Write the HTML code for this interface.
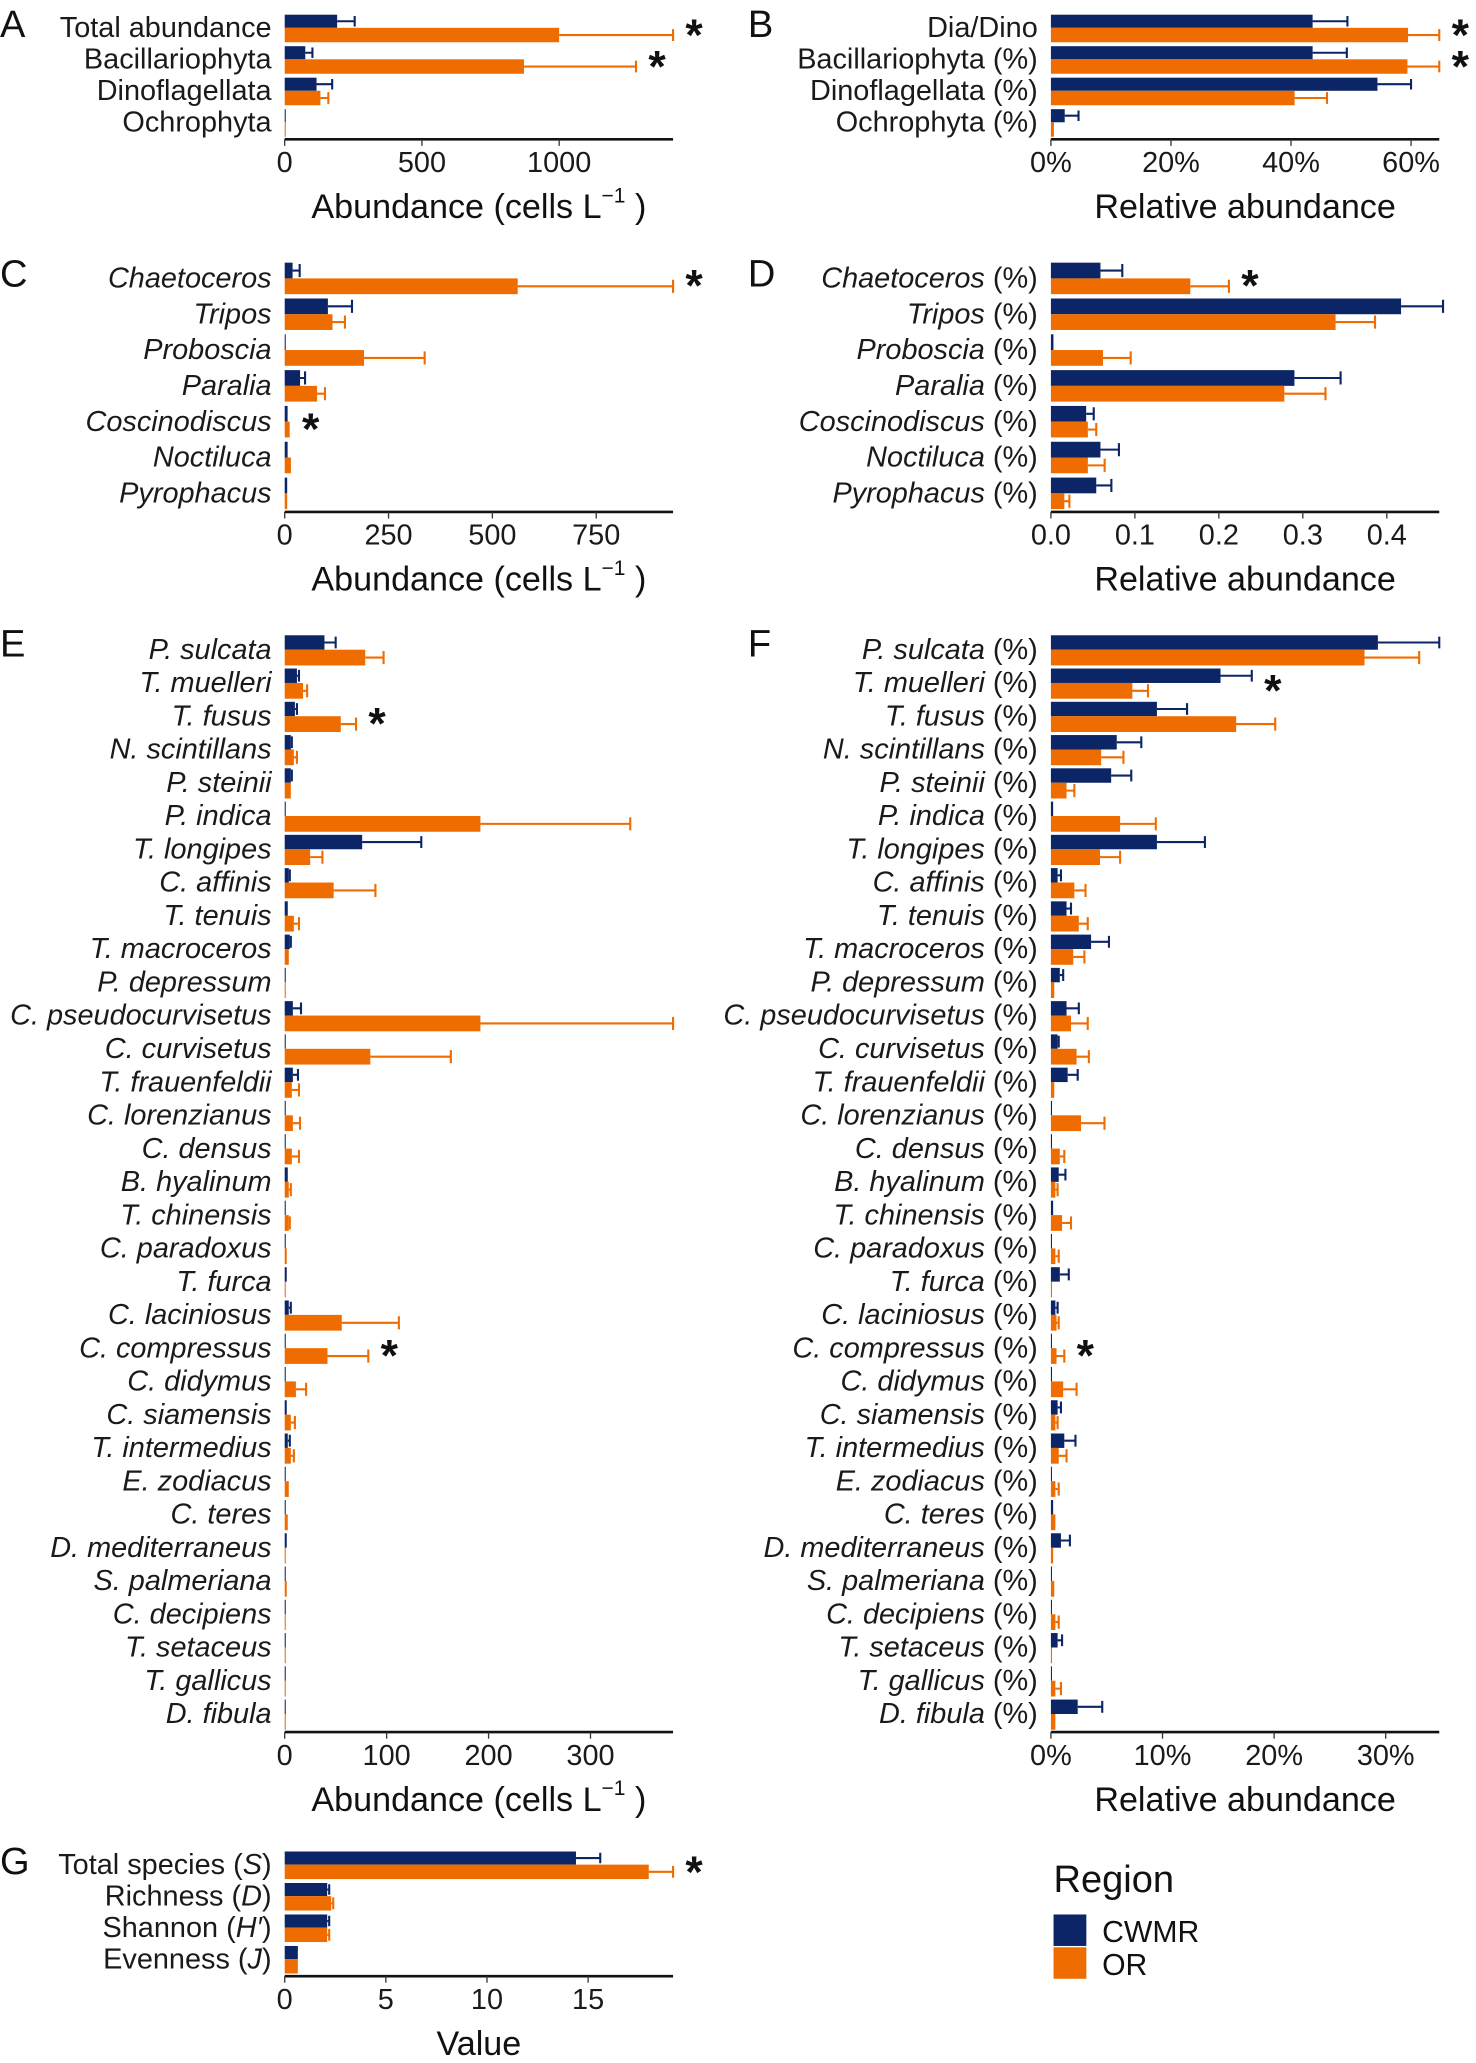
<!DOCTYPE html>
<html><head><meta charset="utf-8"><style>
html,body{margin:0;padding:0;background:#fff;}
svg{display:block;font-family:"Liberation Sans",Arial,sans-serif;}
</style></head><body>
<svg id="chart" xmlns="http://www.w3.org/2000/svg" width="1476" height="2063" viewBox="0 0 1125 1572">
<rect width="1125" height="1572" fill="#fff"/>
<g>
<text x="803" y="1442" font-size="29" fill="#111">Region</text>
<rect x="803" y="1459" width="25" height="24" fill="#0b2566"/>
<rect x="803" y="1484" width="25" height="24" fill="#ef6c00"/>
<text x="840" y="1480" font-size="23" fill="#111">CWMR</text>
<text x="840" y="1505" font-size="23" fill="#111">OR</text>
</g>
</svg>
<script>
// ---- Panel A ----
const catsA = ["Total abundance","Bacillariophyta","Dinoflagellata","Ochrophyta"];
const navyA = [191,75,116,3];
const navyErrA = [255,101,173,3];
const orangeA = [1000,872,130,3];
const orangeErrA = [1415,1280,159,3];
const ticksA = [0,500,1000];
const starsA = [0,1];
// ---- Panel B ----
const catsB = ["Dia/Dino","Bacillariophyta (%)","Dinoflagellata (%)","Ochrophyta (%)"];
const navyB = [43.6,43.6,54.4,2.3];
const navyErrB = [49.4,49.3,60,4.6];
const orangeB = [59.5,59.4,40.6,0.5];
const orangeErrB = [64.7,64.7,46,0.5];
const ticksB = [0,20,40,60];
const starsB = [0,1];
// ---- Panel C ----
const catsC = ["Chaetoceros","Tripos","Proboscia","Paralia","Coscinodiscus","Noctiluca","Pyrophacus"];
const navyC = [19,104,2,37,7,7,6];
const navyErrC = [36,162,2,49,7,7,6];
const orangeC = [561,115,191,78,12,15,6];
const orangeErrC = [935,145,337,97,12,15,6];
const ticksC = [0,250,500,750];
const starsC = [0,4];
// ---- Panel D ----
const catsD = ["Chaetoceros","Tripos","Proboscia","Paralia","Coscinodiscus","Noctiluca","Pyrophacus"];
const navyD = [0.059,0.417,0.003,0.29,0.042,0.059,0.054];
const navyErrD = [0.085,0.467,0.003,0.345,0.051,0.081,0.072];
const orangeD = [0.166,0.339,0.062,0.278,0.044,0.044,0.016];
const orangeErrD = [0.212,0.386,0.095,0.327,0.054,0.064,0.022];
const ticksD = [0,0.1,0.2,0.3,0.4];
const starsD = [0];
// ---- Panel E ----
const catsE = ["P. sulcata","T. muelleri","T. fusus","N. scintillans","P. steinii","P. indica","T. longipes","C. affinis","T. tenuis","T. macroceros","P. depressum","C. pseudocurvisetus","C. curvisetus","T. frauenfeldii","C. lorenzianus","C. densus","B. hyalinum","T. chinensis","C. paradoxus","T. furca","C. laciniosus","C. compressus","C. didymus","C. siamensis","T. intermedius","E. zodiacus","C. teres","D. mediterraneus","S. palmeriana","C. decipiens","T. setaceus","T. gallicus","D. fibula"];
const navyE = [39,12,10,6,6,1,76,4,3,5,1,8,1,8,1,0.5,3,1,1,2,4,0.5,1,2,3,1,0.5,2,0.5,0.5,1,0.5,0.5];
const navyErrE = [50,14,12,7,7,1,134,5,3,6,1,16,1,13,1,0.5,3,1,1,2,6,0.5,1,2,5,1,0.5,2,0.5,0.5,1,0.5,0.5];
const orangeE = [79,18,55,9,6,192,25,48,9,4,1,192,84,7,8,7,4,4,2,1,56,42,11,6,6,4,3,1,2,1,1,1,0.5];
const orangeErrE = [97,22,70,12,6,339,37,89,14,4,1,381,163,14,15,14,6,5,2,1,112,82,21,10,9,4,3,1,2,1,1,1,0.5];
const ticksE = [0,100,200,300];
const starsE = [2,21];
// ---- Panel F ----
const catsF = catsE.slice();
const navyF = [29.3,15.2,9.5,5.9,5.4,0.2,9.5,0.6,1.4,3.6,0.8,1.4,0.6,1.5,0.1,0.1,0.7,0.2,0.05,0.8,0.4,0.05,0.1,0.6,1.2,0.05,0.2,0.9,0.05,0.05,0.6,0.05,2.4];
const navyErrF = [34.8,18,12.2,8.1,7.2,0.2,13.8,0.9,1.8,5.2,1.1,2.5,0.7,2.4,0.1,0.1,1.3,0.2,0.05,1.6,0.6,0.05,0.1,0.9,2.2,0.05,0.2,1.7,0.05,0.05,1,0.05,4.6];
const orangeF = [28.1,7.3,16.6,4.5,1.4,6.2,4.4,2.1,2.5,2,0.3,1.8,2.3,0.3,2.7,0.8,0.4,1,0.4,0.1,0.5,0.5,1.1,0.4,0.7,0.4,0.4,0.2,0.3,0.4,0.1,0.4,0.4];
const orangeErrF = [33,8.7,20.1,6.5,2.1,9.4,6.2,3.1,3.3,3,0.3,3.3,3.4,0.3,4.8,1.2,0.6,1.8,0.7,0.1,0.7,1.2,2.3,0.6,1.4,0.7,0.4,0.2,0.3,0.7,0.1,0.9,0.4];
const ticksF = [0,10,20,30];
const starsF = [1,21];
// ---- Panel G ----
const catsG = ["Total species","Richness","Shannon","Evenness"];
const symG = ["S","D","H′","J"];
const navyG = [14.4,2.1,2.1,0.65];
const navyErrG = [15.6,2.2,2.2,0.65];
const orangeG = [18,2.3,2.1,0.65];
const orangeErrG = [19.2,2.4,2.2,0.65];
const ticksG = [0,5,10,15];
const starsG = [0];

const NS = "http://www.w3.org/2000/svg";
const svg = document.getElementById("chart");
const NAVY = "#0b2566", ORANGE = "#ef6c00";
function mk(tag, attrs, parent){
  const e = document.createElementNS(NS, tag);
  for (const k in attrs) e.setAttribute(k, attrs[k]);
  (parent||svg).appendChild(e);
  return e;
}
function slug(s){return s.toLowerCase().replace(/[^a-z0-9]+/g,'-').replace(/^-|-$/g,'');}

function panel(p){
  const g = mk("g", {});
  
  
  const sx = v => p.x0 + (v - 0) * (p.x1 - p.x0) / p.max;
  const L = mk("text", {x:p.letterX, y:p.letterY, "font-size":29, fill:"#111"}, g);
  L.textContent = p.id;
  
  
  p.cats.forEach((c, i) => {
    const top = p.top + i * p.pitch;
    const ny = top, oy = top + p.nh;
    const nb = mk("rect", {x:p.x0, y:ny, width:Math.max(0.8, sx(p.navy[i]) - p.x0), height:p.nh, fill:NAVY}, g);
    
    
    const ob = mk("rect", {x:p.x0, y:oy, width:Math.max(0.8, sx(p.orange[i]) - p.x0), height:p.oh, fill:ORANGE}, g);
    
    
    [[p.navy[i], p.navyErr[i], ny, p.nh, NAVY, 'cwmr'], [p.orange[i], p.orangeErr[i], oy, p.oh, ORANGE, 'or']].forEach(e => {
      if (e[1] - e[0] <= 0.0001) return;
      const xa = sx(e[0]), xb = sx(e[1]), ym = e[2] + e[3]/2;
      const ln = mk("path", {d:`M${xa},${ym}H${xb}M${xb},${e[2]+1}V${e[2]+e[3]-1}`, stroke:e[4], "stroke-width":1.6, fill:"none"}, g);
      
      
    });
    const t = mk("text", {x:p.labelX, y:top + p.nh + 7, "font-size":22, fill:"#1a1a1a", "text-anchor":"end"}, g);
    
    
    if (p.italic) {
      const a = mk("tspan", {"font-style":"italic"}, t); a.textContent = c;
      if (p.pct) { const b = mk("tspan", {}, t); b.textContent = " (%)"; }
    } else if (p.sym) {
      const a = mk("tspan", {}, t); a.textContent = c + " (";
      const b = mk("tspan", {"font-style":"italic"}, t); b.textContent = p.sym[i];
      const d = mk("tspan", {}, t); d.textContent = ")";
    } else {
      t.textContent = c;
    }
    if (p.stars.indexOf(i) >= 0) {
      const xs = Math.max(sx(p.orangeErr[i]), sx(p.navyErr[i])) + 16;
      const st = mk("text", {x:Math.min(xs, p.x1 + 16), y:top + p.nh + 17, "font-size":34, "font-weight":"bold", fill:"#111", "text-anchor":"middle"}, g);
      st.textContent = "*";
      
      
    }
  });
  const ax = mk("line", {x1:p.x0, x2:p.x1, y1:p.axisY, y2:p.axisY, stroke:"#111", "stroke-width":2}, g);
  
  
  p.ticks.forEach((tv, k) => {
    const tx = sx(tv);
    const tk = mk("line", {x1:tx, x2:tx, y1:p.axisY, y2:p.axisY + 5, stroke:"#333", "stroke-width":1}, g);
    
    
    const tl = mk("text", {x:tx, y:p.axisY + 25, "font-size":22, fill:"#1a1a1a", "text-anchor":"middle"}, g);
    tl.textContent = p.fmt(tv);
    
    
  });
  const ti = mk("text", {x:p.titleX, y:p.axisY + 60, "font-size":26, fill:"#111", "text-anchor":"middle"}, g);
  
  
  if (p.title === "abund") {
    const a = mk("tspan", {}, ti); a.textContent = "Abundance (cells  L";
    const b = mk("tspan", {dy:-12, "font-size":16}, ti); b.textContent = "−1";
    const c = mk("tspan", {dy:12}, ti); c.textContent = " )";
  } else ti.textContent = p.title;
}
const fmtInt = v => String(v);
const fmtPct = v => v + "%";
const fmt1 = v => v.toFixed(1);

panel({id:"A", cats:catsA, navy:navyA, navyErr:navyErrA, orange:orangeA, orangeErr:orangeErrA, ticks:ticksA, stars:starsA,
  x0:217, x1:513, max:1415, top:11, pitch:24, nh:10, oh:11, axisY:106, labelX:207, letterX:0, letterY:28, title:"abund", titleX:365, fmt:fmtInt});
panel({id:"B", cats:catsB, navy:navyB, navyErr:navyErrB, orange:orangeB, orangeErr:orangeErrB, ticks:ticksB, stars:starsB,
  x0:801, x1:1097, max:64.7, top:11, pitch:24, nh:10, oh:11, axisY:106, labelX:791, letterX:570, letterY:28, title:"Relative abundance", titleX:949, fmt:fmtPct});
panel({id:"C", cats:catsC, navy:navyC, navyErr:navyErrC, orange:orangeC, orangeErr:orangeErrC, ticks:ticksC, stars:starsC, italic:true,
  x0:217, x1:513, max:935, top:200, pitch:27.3, nh:12, oh:12, axisY:390, labelX:207, letterX:0, letterY:218, title:"abund", titleX:365, fmt:fmtInt});
panel({id:"D", cats:catsD, navy:navyD, navyErr:navyErrD, orange:orangeD, orangeErr:orangeErrD, ticks:ticksD, stars:starsD, italic:true, pct:true,
  x0:801, x1:1097, max:0.4625, top:200, pitch:27.3, nh:12, oh:12, axisY:390, labelX:791, letterX:570, letterY:218, title:"Relative abundance", titleX:949, fmt:fmt1});
panel({id:"E", cats:catsE, navy:navyE, navyErr:navyErrE, orange:orangeE, orangeErr:orangeErrE, ticks:ticksE, stars:starsE, italic:true,
  x0:217, x1:513, max:381, top:484, pitch:25.35, nh:11, oh:12, axisY:1320, labelX:207, letterX:0, letterY:500, title:"abund", titleX:365, fmt:fmtInt});
panel({id:"F", cats:catsF, navy:navyF, navyErr:navyErrF, orange:orangeF, orangeErr:orangeErrF, ticks:ticksF, stars:starsF, italic:true, pct:true,
  x0:801, x1:1097, max:34.8, top:484, pitch:25.35, nh:11, oh:12, axisY:1320, labelX:791, letterX:570, letterY:500, title:"Relative abundance", titleX:949, fmt:fmtPct});
panel({id:"G", cats:catsG, sym:symG, navy:navyG, navyErr:navyErrG, orange:orangeG, orangeErr:orangeErrG, ticks:ticksG, stars:starsG,
  x0:217, x1:513, max:19.2, top:1411, pitch:24, nh:10, oh:11, axisY:1506, labelX:207, letterX:0, letterY:1428, title:"Value", titleX:365, fmt:fmtInt});
</script>
</body></html>
